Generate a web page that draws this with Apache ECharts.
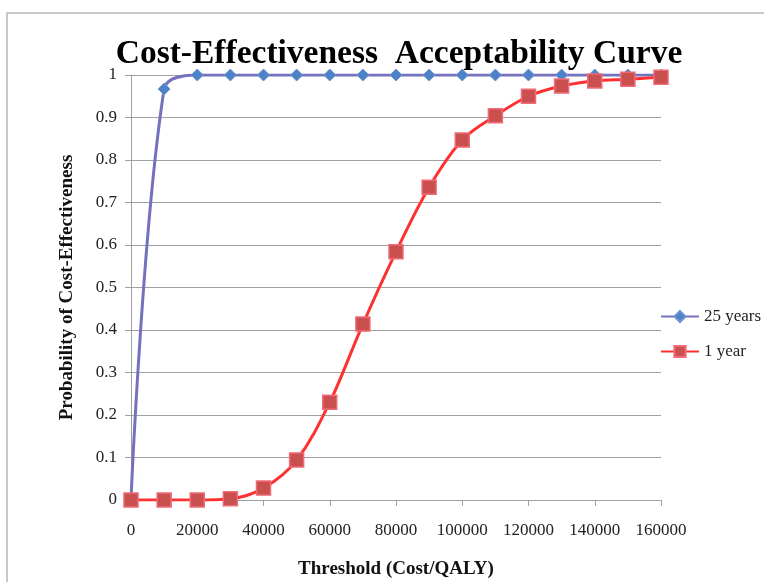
<!DOCTYPE html>
<html><head><meta charset="utf-8">
<script src="https://cdn.jsdelivr.net/npm/echarts@6/dist/echarts.min.js"></script>
<style>html,body{margin:0;padding:0;background:#fff}#c{width:764px;height:582px}</style>
</head><body><div id="c"></div>
<script>
const thresholds = [0,10000,20000,30000,40000,50000,60000,70000,80000,90000,100000,110000,120000,130000,140000,150000,160000];
const years25 = [0,0.967,1,1,1,1,1,1,1,1,1,1,1,1,1,1,1];
const year1 = [0,0,0,0.003,0.028,0.094,0.23,0.414,0.584,0.736,0.847,0.904,0.95,0.974,0.986,0.99,0.995];
const seriesNames = ['25 years','1 year'];
const yTicks = [0,0.1,0.2,0.3,0.4,0.5,0.6,0.7,0.8,0.9,1];

const chart = echarts.init(document.getElementById('c'));
const serif = '"Liberation Serif",serif';
chart.setOption({
  animation:false,
  backgroundColor:'#fff',
  graphic:[{type:'rect',shape:{x:7,y:13,width:800,height:600},style:{fill:'none',stroke:'#c8c8c8',lineWidth:2},z:-1}],
  title:{text:'Cost-Effectiveness  Acceptability Curve',left:394,top:32,textAlign:'center',
    textStyle:{fontFamily:serif,fontWeight:'bold',fontSize:33.5,color:'#000'}},
  grid:{left:131,right:103,top:75,bottom:82,outerBoundsMode:'none',containLabel:false},
  legend:{orient:'vertical',left:655,top:303,itemGap:18,itemWidth:38,itemHeight:14,
    textStyle:{fontFamily:serif,fontSize:17,color:'#222'},data:seriesNames},
  xAxis:{type:'value',min:0,max:160000,interval:20000,
    name:'Threshold (Cost/QALY)',nameLocation:'middle',nameGap:60,
    nameTextStyle:{fontFamily:serif,fontWeight:'bold',fontSize:19,color:'#111'},
    axisLine:{lineStyle:{color:'#a0a0a0'}},axisTick:{show:true,length:6,lineStyle:{color:'#a0a0a0'}},
    axisLabel:{fontFamily:serif,fontSize:17,color:'#222',margin:22,formatter:v=>String(v)},
    splitLine:{show:false}},
  yAxis:{type:'value',min:0,max:1,interval:0.1,
    name:'Probability of Cost-Effectiveness',nameLocation:'middle',nameGap:54,
    nameTextStyle:{fontFamily:serif,fontWeight:'bold',fontSize:19,color:'#111'},
    axisLine:{show:true,lineStyle:{color:'#a0a0a0'}},axisTick:{show:true,length:6,lineStyle:{color:'#a0a0a0'}},
    axisLabel:{fontFamily:serif,fontSize:17,color:'#222',margin:14,formatter:v=>String(+v.toFixed(1))},
    splitLine:{lineStyle:{color:'#a0a0a0',width:1}}},
  series:[
    {name:seriesNames[0],type:'line',smooth:0.35,data:thresholds.map((x,i)=>[x,years25[i]]),
      symbol:'diamond',symbolSize:12,
      lineStyle:{color:'#7472BC',width:3},
      itemStyle:{color:'#4F81C9',borderColor:'#6E95D2',borderWidth:1},z:2},
    {name:seriesNames[1],type:'line',smooth:0.35,data:thresholds.map((x,i)=>[x,year1[i]]),
      symbol:'rect',symbolSize:14,
      lineStyle:{color:'#FF3030',width:3},
      itemStyle:{color:'#C9504E',borderColor:'#F06A78',borderWidth:1.5},z:3}
  ]
});
</script></body></html>
